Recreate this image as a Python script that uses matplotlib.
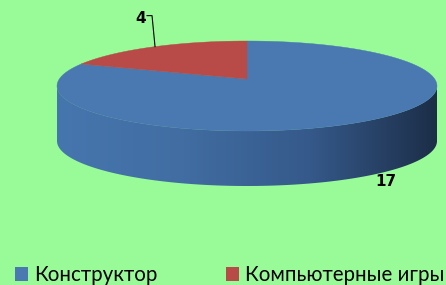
import numpy as np
import matplotlib.pyplot as plt
from matplotlib.patches import Polygon, Patch
from matplotlib.colors import LinearSegmentedColormap

# Данные
labels = ['Конструктор', 'Компьютерные игры']
values = [17, 4]
colors = ['#4A78B1', '#B84A47']

bg = '#99FB98'

# Геометрия "3D" круга (в пикселях)
cx, cy = 247, 86
rx, ry = 190, 45
depth = 55
vshift = -7  # вершина секторов чуть выше центра (перспектива)

fig = plt.figure(figsize=(4.46, 2.85), dpi=100)
fig.patch.set_facecolor(bg)
ax = fig.add_axes([0, 0, 1, 1])


def warp(t):
    # лёгкое перспективное искажение углов
    return t - 0.2 * np.sin(2 * (t - np.pi / 2))


def ell(t, dy=0):
    return cx + rx * np.cos(t), cy - ry * np.sin(t) + dy


# Боковая поверхность (видна только передняя половина)
t = np.linspace(np.pi, 2 * np.pi, 200)
xt, yt = ell(t)
xb, yb = ell(t[::-1], depth)
side = Polygon(np.column_stack([np.r_[xt, xb], np.r_[yt, yb]]),
               closed=True, facecolor='none', edgecolor='none')
ax.add_patch(side)
cmap = LinearSegmentedColormap.from_list(
    'side', ['#4676AE', '#416DA2', '#35598A', '#1C2E48'])
grad = np.linspace(0, 1, 256).reshape(1, -1)
im = ax.imshow(grad, cmap=cmap, extent=[cx - rx, cx + rx, cy + ry + depth, cy - ry],
               aspect='auto', zorder=1)
im.set_clip_path(side)
ax.set_xlim(0, 446)
ax.set_ylim(285, 0)
ax.axis('off')

# Верхняя поверхность: секторы
total = sum(values)
start = np.pi / 2
handles = []
for i, (lab, v, c) in enumerate(zip(labels, values, colors)):
    span = 2 * np.pi * v / total
    if i == 0:
        a0, a1 = start - span, start
    else:
        a0, a1 = start, start + span
    tt = warp(np.linspace(a0, a1, 300))
    x, y = ell(tt)
    pts = np.column_stack([np.r_[cx, x], np.r_[cy + vshift, y]])
    ax.add_patch(Polygon(pts, closed=True, facecolor=c, edgecolor=c, lw=0.3, zorder=2))
    handles.append(Patch(facecolor=c, label=lab))

# Подписи значений
mid = start + np.pi * values[1] / total
lx, ly = ell((mid + warp(mid)) / 2)
ax.plot([lx, lx - 3, lx - 8], [ly, ly - 31, ly - 31], color='black', lw=0.8, zorder=3)
ax.text(lx - 9, ly - 28, str(values[1]), ha='right', va='center',
        fontsize=11, fontweight='bold', family='DejaVu Sans')
bx, by = ell(-np.pi * 0.24, depth)
ax.text(bx, by + 10, str(values[0]), ha='center', va='center',
        fontsize=11, fontweight='bold', family='DejaVu Sans')

leg = ax.legend(handles=handles, loc='lower left', bbox_to_anchor=(-0.008, -0.065),
                ncol=2, frameon=False, handlelength=0.65,
                handleheight=0.65, handletextpad=0.3, columnspacing=3.3,
                prop={'family': 'Lato', 'size': 14.8})

fig.savefig('out.png', dpi=100, facecolor=bg)
